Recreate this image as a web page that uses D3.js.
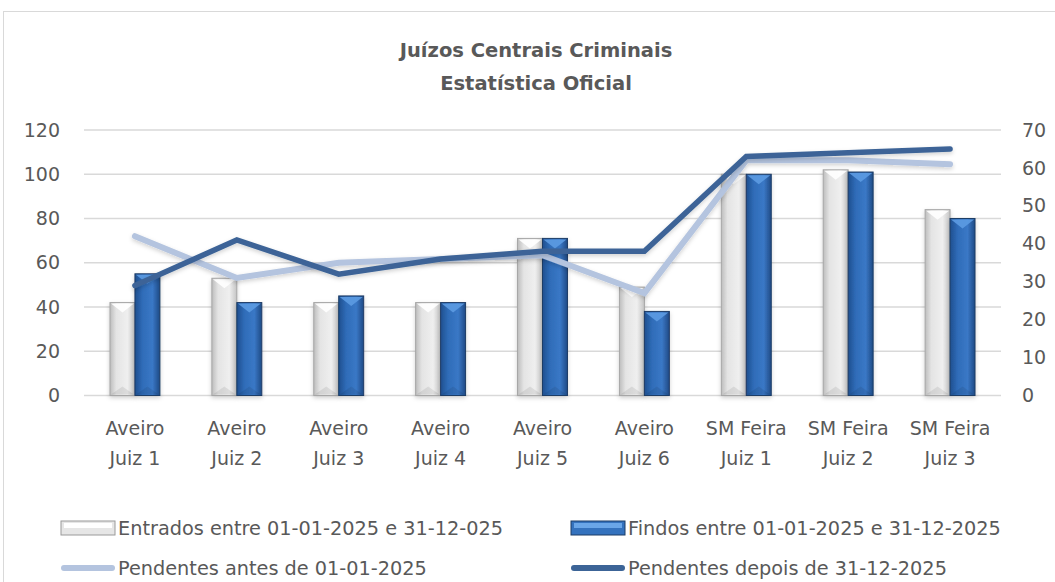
<!DOCTYPE html>
<html>
<head>
<meta charset="utf-8">
<script src="https://cdn.jsdelivr.net/npm/d3@7"></script>
<style>
  body { margin: 0; background: #fff; }
  svg text { font-family: "DejaVu Sans", Verdana, sans-serif; fill: #595959; }
</style>
</head>
<body>
<svg id="chart" width="1055" height="582"></svg>
<script>
// chart values
const categories = ["Aveiro|Juiz 1", "Aveiro|Juiz 2", "Aveiro|Juiz 3", "Aveiro|Juiz 4", "Aveiro|Juiz 5",
                    "Aveiro|Juiz 6", "SM Feira|Juiz 1", "SM Feira|Juiz 2", "SM Feira|Juiz 3"];
const entrados = [42, 53, 42, 42, 71, 49, 100, 102, 84];
const findos   = [55, 42, 45, 42, 71, 38, 100, 101, 80];
const pendAntes  = [42, 31, 35, 36, 37, 27, 62, 62, 61];
const pendDepois = [29, 41, 32, 36, 38, 38, 63, 64, 65];
const leftTicks  = [0, 20, 40, 60, 80, 100, 120];
const rightTicks = [0, 10, 20, 30, 40, 50, 60, 70];
const titleLines = ["Juízos Centrais Criminais", "Estatística Oficial"];
const legendItems = [
    {label: "Entrados entre 01-01-2025 e 31-12-025", type: "barGrey"},
    {label: "Findos entre 01-01-2025 e 31-12-2025", type: "barBlue"},
    {label: "Pendentes antes de 01-01-2025", type: "lineLight"},
    {label: "Pendentes depois de 31-12-2025", type: "lineDark"}
];

const svg = d3.select("#chart");
const margin = {left: 84, right: 1001, top: 130, bottom: 395.5};
const fontFam = "DejaVu Sans, Verdana, sans-serif";

// outer frame
svg.append("rect")
    .attr("x", 3.5).attr("y", 11.5)
    .attr("width", 1060).attr("height", 600)
    .attr("fill", "none").attr("stroke", "#d9d9d9");

const defs = svg.append("defs");
let gGrey = defs.append("linearGradient").attr("id", "gradGrey");
gGrey.append("stop").attr("offset", "0%").attr("stop-color", "#bdbdbd");
gGrey.append("stop").attr("offset", "25%").attr("stop-color", "#e4e4e4");
gGrey.append("stop").attr("offset", "70%").attr("stop-color", "#efefef");
gGrey.append("stop").attr("offset", "100%").attr("stop-color", "#c4c4c4");
let gBlue = defs.append("linearGradient").attr("id", "gradBlue");
gBlue.append("stop").attr("offset", "0%").attr("stop-color", "#1f4f8f");
gBlue.append("stop").attr("offset", "30%").attr("stop-color", "#2f6cb8");
gBlue.append("stop").attr("offset", "70%").attr("stop-color", "#3a78c6");
gBlue.append("stop").attr("offset", "100%").attr("stop-color", "#1f4a85");
let shadow = defs.append("filter").attr("id", "shadow")
    .attr("x", "-10%").attr("y", "-10%").attr("width", "120%").attr("height", "130%");
shadow.append("feDropShadow").attr("dx", 0).attr("dy", 2).attr("stdDeviation", 2)
    .attr("flood-color", "#000").attr("flood-opacity", 0.18);

const xScale = d3.scaleBand()
    .domain(categories)
    .range([margin.left, margin.right]);

const yLeft = d3.scaleLinear().domain([0, 120]).range([margin.bottom, margin.top]);
const yRight = d3.scaleLinear().domain([0, 70]).range([margin.bottom, margin.top]);

//Gridlines
svg.append("g").selectAll("line")
    .data(leftTicks)
    .join("line")
    .attr("x1", margin.left).attr("x2", margin.right)
    .attr("y1", d => yLeft(d)).attr("y2", d => yLeft(d))
    .attr("stroke", "#d9d9d9").attr("stroke-width", 1.5);

//Left axis
let leftAxis = svg.append("g")
    .attr("transform", "translate(" + 60 + ",0)")
    .call(d3.axisLeft(yLeft).tickValues(leftTicks).tickSize(0).tickPadding(0));
leftAxis.select(".domain").remove();
leftAxis.selectAll("text").attr("font-size", 19).attr("fill", "#595959")
    .attr("font-family", fontFam);

//Right axis
let rightAxis = svg.append("g")
    .attr("transform", "translate(" + 1022 + ",0)")
    .call(d3.axisRight(yRight).tickValues(rightTicks).tickSize(0).tickPadding(0));
rightAxis.select(".domain").remove();
rightAxis.selectAll("text").attr("font-size", 19).attr("fill", "#595959")
    .attr("font-family", fontFam);

//Category labels
let catLabels = svg.append("g").selectAll("text")
    .data(categories)
    .join("text")
    .attr("x", d => xScale(d) + xScale.bandwidth() / 2)
    .attr("y", 435)
    .attr("text-anchor", "middle")
    .attr("font-size", 19);
catLabels.selectAll("tspan")
    .data(d => d.split("|"))
    .join("tspan")
    .attr("x", function() { return d3.select(this.parentNode).attr("x"); })
    .attr("dy", (d, i) => i === 0 ? 0 : 30)
    .text(d => d);

//Bars
const barW = xScale.bandwidth() * 0.245;
const barSeries = [
    {values: entrados, fill: "url(#gradGrey)", stroke: "#a6a6a6", bevel: "#ffffff", offset: -1},
    {values: findos, fill: "url(#gradBlue)", stroke: "#1d3c66", bevel: "#5d9be2", offset: 0}
];
barSeries.forEach(s => {
    let g = svg.append("g").attr("filter", "url(#shadow)");
    let bars = g.selectAll("g").data(s.values.map((v, i) => ({v: v, c: categories[i]}))).join("g");
    bars.append("rect")
        .attr("x", d => xScale(d.c) + xScale.bandwidth() / 2 + s.offset * barW)
        .attr("y", d => yLeft(d.v))
        .attr("width", barW)
        .attr("height", d => yLeft(0) - yLeft(d.v))
        .attr("fill", s.fill)
        .attr("stroke", s.stroke).attr("stroke-width", 1);
    bars.append("path")
        .attr("d", d => {
            let x0 = xScale(d.c) + xScale.bandwidth() / 2 + s.offset * barW;
            let y0 = yLeft(d.v);
            return "M" + (x0 + 1) + "," + (y0 + 1) + "L" + (x0 + barW - 1) + "," + (y0 + 1) +
                   "L" + (x0 + barW / 2) + "," + (y0 + 10) + "Z";
        })
        .attr("fill", s.bevel).attr("opacity", 0.9);
    bars.append("path")
        .attr("d", d => {
            let x0 = xScale(d.c) + xScale.bandwidth() / 2 + s.offset * barW;
            let y0 = yLeft(0);
            return "M" + (x0 + 1) + "," + (y0 - 1) + "L" + (x0 + barW - 1) + "," + (y0 - 1) +
                   "L" + (x0 + barW / 2) + "," + (y0 - 9) + "Z";
        })
        .attr("fill", "#000").attr("opacity", 0.08);
});

//Lines
const lineGen = d3.line()
    .x((d, i) => xScale(categories[i]) + xScale.bandwidth() / 2)
    .y(d => yRight(d));

[{values: pendAntes, color: "#b4c4df", width: 6}, {values: pendDepois, color: "#3c6497", width: 5.5}]
    .forEach(s => {
        svg.append("path")
            .datum(s.values)
            .attr("d", lineGen)
            .attr("fill", "none")
            .attr("stroke", s.color)
            .attr("stroke-width", s.width)
            .attr("stroke-linecap", "round")
            .attr("stroke-linejoin", "miter")
            .attr("filter", "url(#shadow)");
    });

//Title
svg.append("g").selectAll("text")
    .data(titleLines)
    .join("text")
    .attr("x", 536)
    .attr("y", (d, i) => 57 + i * 33)
    .attr("text-anchor", "middle")
    .attr("font-size", 19.5)
    .attr("font-weight", "bold")
    .text(d => d);

//Legend
const legendPos = [{x: 61, y: 528}, {x: 571, y: 528}, {x: 61, y: 568}, {x: 571, y: 568}];
let legend = svg.append("g").selectAll("g")
    .data(legendItems)
    .join("g")
    .attr("transform", (d, i) => "translate(" + legendPos[i].x + "," + legendPos[i].y + ")");

legend.each(function(d) {
    let g = d3.select(this);
    if (d.type === "barGrey" || d.type === "barBlue") {
        g.append("rect")
            .attr("x", 0).attr("y", -7).attr("width", 54).attr("height", 14)
            .attr("fill", d.type === "barGrey" ? "#e6e6e6" : "#3472be")
            .attr("stroke", d.type === "barGrey" ? "#9a9a9a" : "#1d3c66");
        g.append("rect")
            .attr("x", 3).attr("y", -5).attr("width", 48).attr("height", 5)
            .attr("fill", d.type === "barGrey" ? "#ffffff" : "#6aa6e8");
    } else {
        g.append("line")
            .attr("x1", 3).attr("x2", 51).attr("y1", 0).attr("y2", 0)
            .attr("stroke", d.type === "lineLight" ? "#b4c4df" : "#3c6497")
            .attr("stroke-width", 6).attr("stroke-linecap", "round");
    }
    g.append("text")
        .attr("x", 57).attr("y", 7)
        .attr("font-size", 19.3)
        .text(d.label);
});
</script>
</body>
</html>
